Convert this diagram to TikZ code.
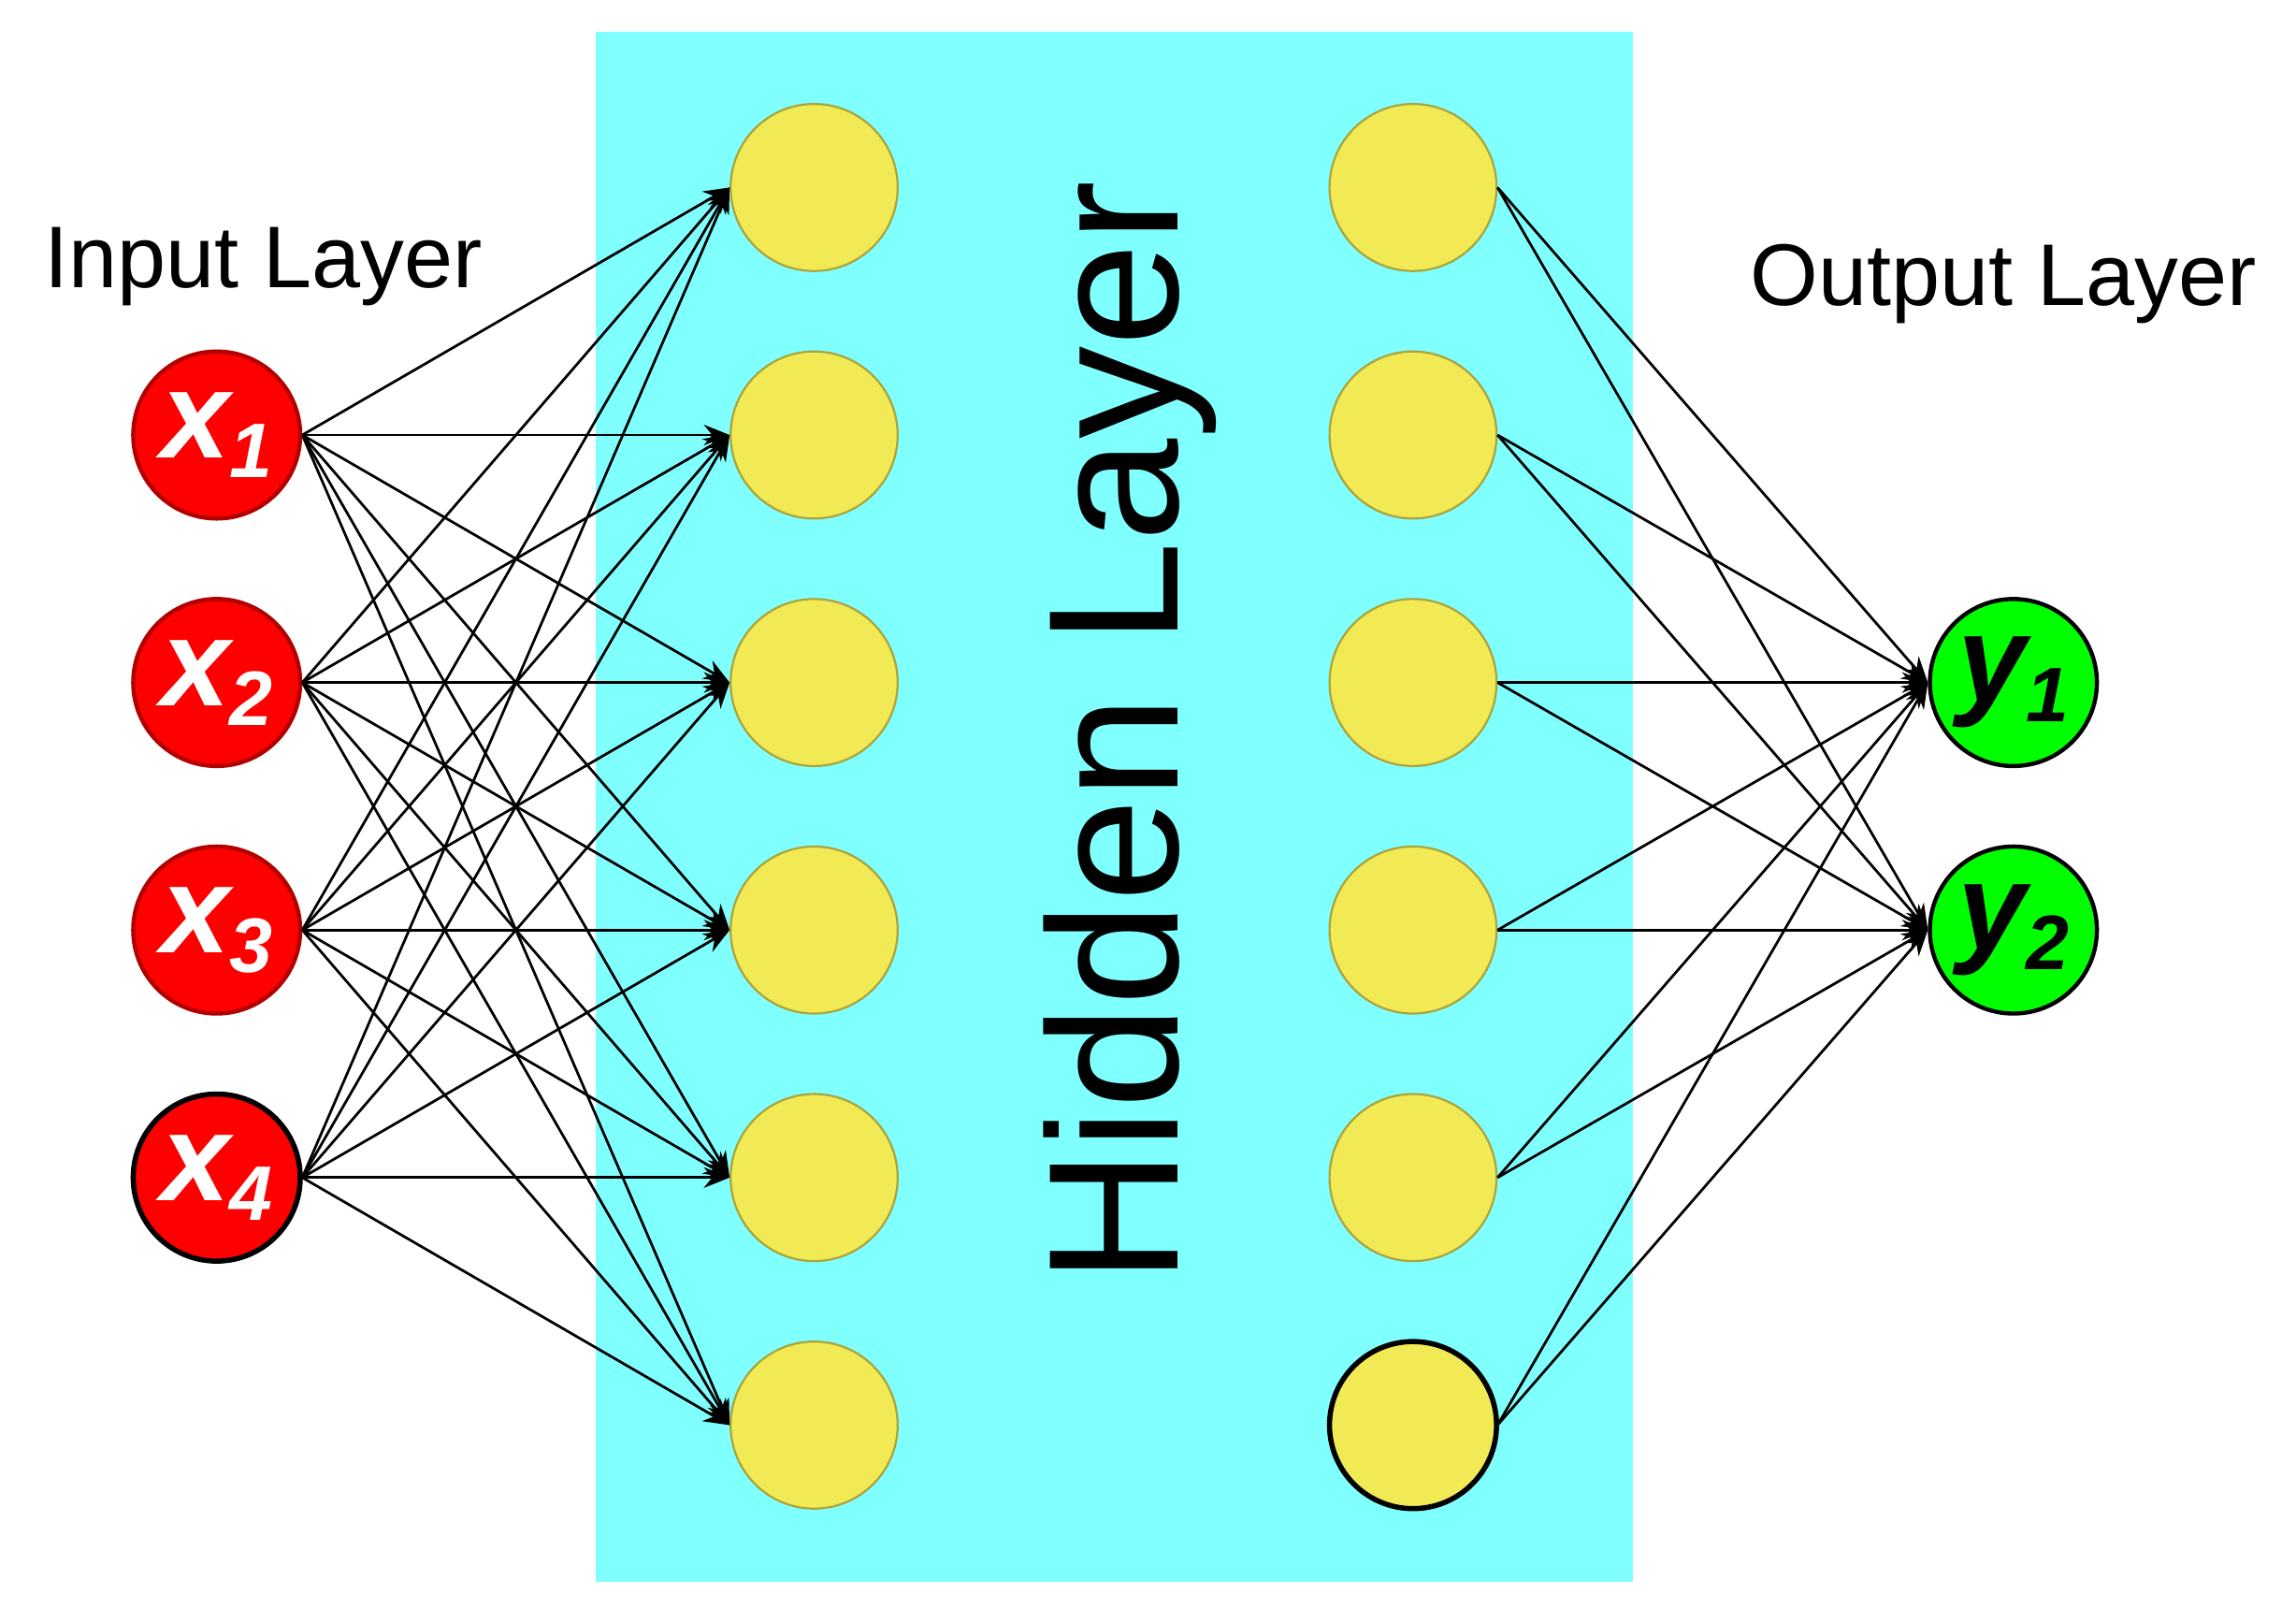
\documentclass[tikz,border=0pt]{standalone}
\usepackage{fontspec}
\setmainfont{Liberation Sans}
\usetikzlibrary{arrows.meta}
\definecolor{cy}{HTML}{80FFFF}
\definecolor{yel}{HTML}{F2EA55}
\definecolor{rd}{HTML}{FF0000}
\definecolor{gr}{HTML}{00FF00}
\newcommand{\sbx}[1]{\raisebox{-0.3ex}{\fontsize{15}{15}\selectfont #1}}
\begin{document}
\begin{tikzpicture}[x=0.01cm,y=-0.01cm,
  neu/.style={circle,minimum size=1.14cm,inner sep=0pt},
  inp/.style={neu,fill=rd,draw=rd!70!black,line width=0.8pt,text=white,font=\fontsize{24}{24}\selectfont\bfseries\itshape},
  hid/.style={neu,fill=yel,draw=yel!70!black,line width=0.4pt},
  outn/.style={neu,fill=gr,draw=black,line width=0.8pt,font=\fontsize{24}{24}\selectfont\bfseries\itshape},
  con/.style={line width=0.5pt,-{Stealth[length=5pt,width=4pt]}},
  lbl/.style={font=\fontsize{17}{17}\selectfont}]
\useasboundingbox (0,0) rectangle (1568,1108);
\fill[white] (0,0) rectangle (1568,1108);
\fill[cy] (407,22) rectangle (1115,1080);
\foreach \i/\y in {1/297,2/466,3/635,4/804}
  \node[inp] (x\i) at (148,\y) {x\sbx{\i}};
\draw[line width=1pt] (x4) circle[radius=0.57cm];
\foreach \i/\y in {1/128,2/297,3/466,4/635,5/804,6/973}{
  \node[hid] (a\i) at (556,\y) {};
  \node[hid] (b\i) at (965,\y) {};}
\draw[line width=1pt] (b6) circle[radius=0.57cm];
\node[outn] (y1) at (1375,466) {y\sbx{1}};
\node[outn] (y2) at (1375,635) {y\sbx{2}};
\foreach \i in {1,...,4}\foreach \j in {1,...,6}
  \draw[con] (x\i.east) -- (a\j.west);
\foreach \j in {1,...,6}\foreach \k in {1,2}
  \draw[con] (b\j.east) -- (y\k.west);
\node[lbl] (li) at (180,182) {Input Layer};
\node[lbl] (lo) at (1368,194) {Output Layer};
\node[rotate=90,font=\fontsize{36}{36}\selectfont] (lh) at (772,500) {Hidden Layer};
\end{tikzpicture}
\end{document}
